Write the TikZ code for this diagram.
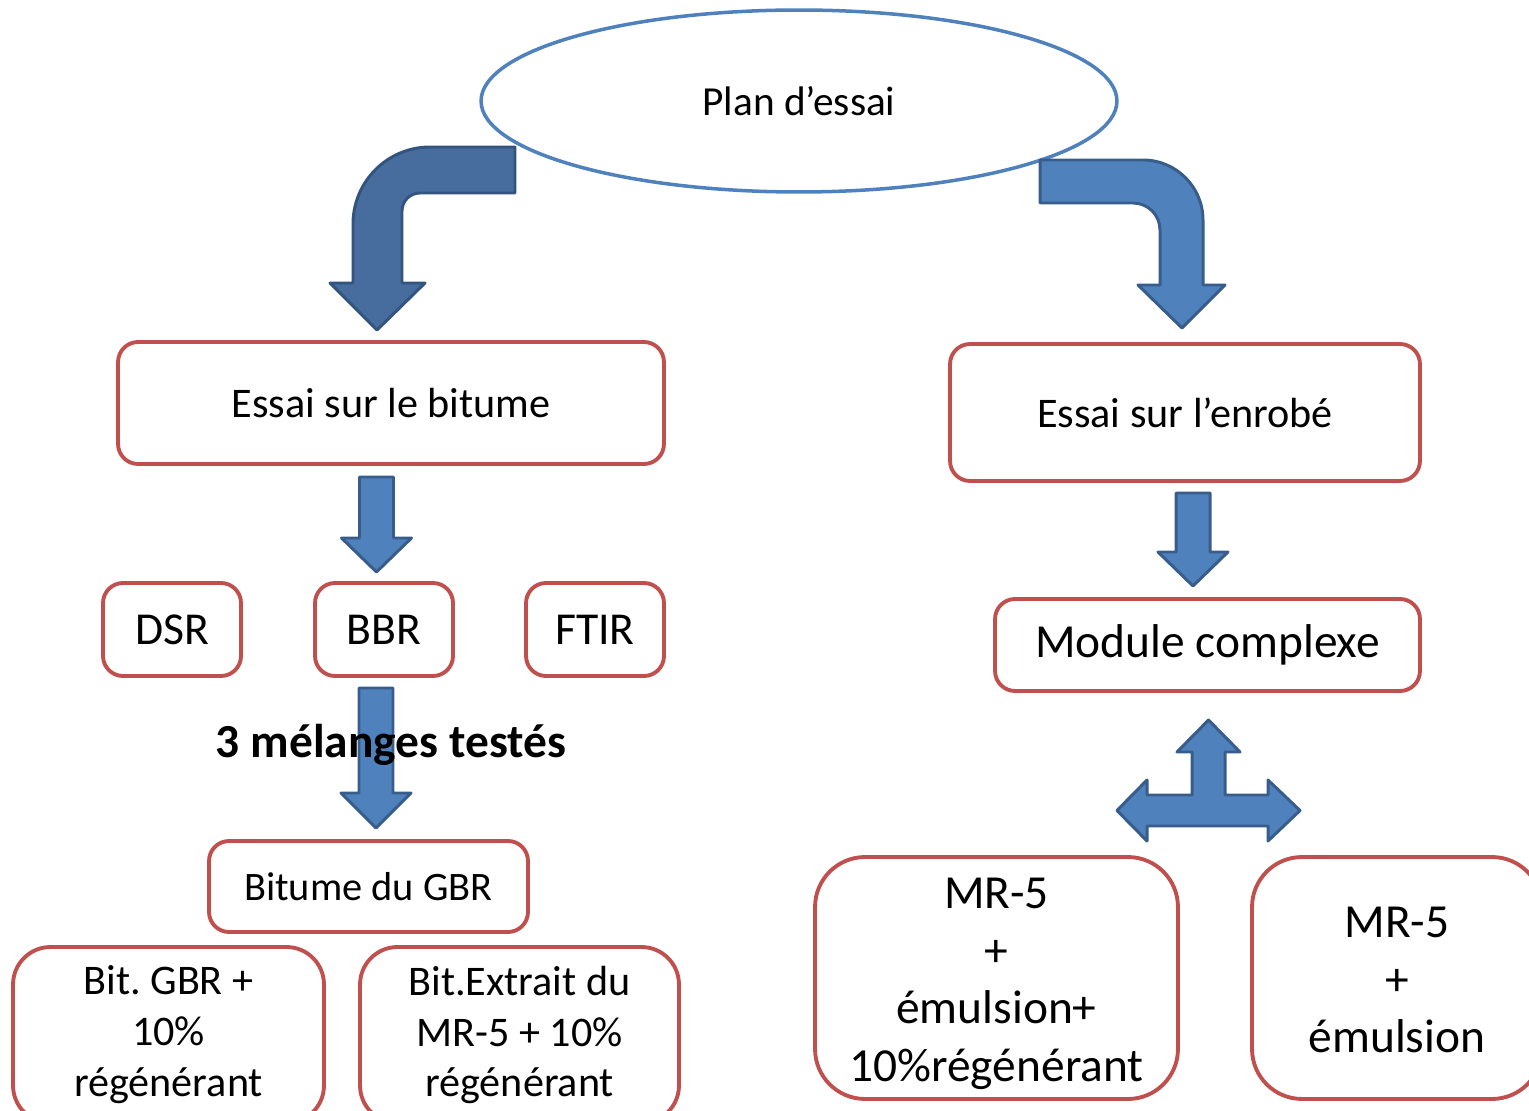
\documentclass[tikz,border=0pt]{standalone}
\usepackage{fontspec}
\setmainfont{Carlito}
\frenchspacing
\usetikzlibrary{shapes}
\definecolor{boxred}{HTML}{C0504D}
\definecolor{accblue}{HTML}{4F81BD}
\definecolor{accdark}{HTML}{385D8A}
\definecolor{bentblue}{HTML}{476D9E}
\definecolor{bentdark}{HTML}{33547F}
\tikzstyle{boxes} = [rectangle, rounded corners=0.4cm, draw=boxred, line width=2.2pt, fill=white, text centered, inner sep=0pt]
\tikzstyle{tallboxes} = [boxes, rounded corners=0.75cm, align=center]
\tikzstyle{bigboxes} = [boxes, rounded corners=1cm, align=center]
\tikzstyle{blockarrow} = [fill=accblue, draw=accdark, line width=1.7pt, line join=round]
\tikzstyle{bentarrow} = [fill=bentblue, draw=bentdark, line width=1.7pt, line join=round]
% straight block arrow: x, top, head start, tip
\newcommand{\blockdown}[4]{\draw[blockarrow] (#1-17,#2) -- (#1+17,#2) -- (#1+17,#3) -- (#1+35,#3) -- (#1,#4) -- (#1-35,#3) -- (#1-17,#3) -- cycle;}

\begin{document}
\begin{tikzpicture}[x=0.02cm, y=-0.02cm]
            \useasboundingbox (0,0) rectangle (1529,1111);
            \clip (0,0) rectangle (1529,1111);

            % Top
            \node(plan) [ellipse, draw=accblue, line width=2pt, minimum width=12.72cm, minimum height=3.64cm, font=\fontsize{23.5}{28}\selectfont] at (799,101) {Plan d’essai};

            % Draw bent arrows
            \draw[bentarrow] (515,147) -- (430,147) .. controls (387.5,147) and (353,181.5) .. (353,224) -- (353,283) -- (330,283) -- (377,330) -- (425,283) -- (402,283) -- (402,211) .. controls (402,201) and (410,193) .. (420,193) -- (515,193) -- cycle;
            \draw[blockarrow] (1040,160) -- (1143,160) .. controls (1176,160) and (1203,187) .. (1203,220) -- (1203,285) -- (1225,285) -- (1182,328) -- (1138,285) -- (1160,285) -- (1160,230) .. controls (1160,215) and (1148,203) .. (1133,203) -- (1040,203) -- cycle;

            % Left branch
            \node(bitume) [boxes, minimum width=10.92cm, minimum height=2.44cm, font=\fontsize{24}{29}\selectfont] at (391,403) {Essai sur le bitume};
            \node(dsr) [boxes, minimum width=2.76cm, minimum height=1.86cm, font=\fontsize{26}{31}\selectfont] at (172,629.5) {DSR};
            \node(bbr) [boxes, minimum width=2.76cm, minimum height=1.86cm, font=\fontsize{26}{31}\selectfont] at (384,629.5) {BBR};
            \node(ftir) [boxes, minimum width=2.76cm, minimum height=1.86cm, font=\fontsize{26}{31}\selectfont] at (595,629.5) {FTIR};
            \node(gbr) [boxes, minimum width=6.38cm, minimum height=1.82cm, font=\fontsize{23}{27}\selectfont] at (368.5,886.5) {Bitume du GBR};
            \node(bitgbr) [tallboxes, minimum width=6.22cm, minimum height=3.52cm, font=\fontsize{24}{29}\selectfont] at (168.5,1035) {Bit. GBR +\\10\%\\régénérant};
            \node(bitext) [tallboxes, minimum width=6.38cm, minimum height=3.52cm, font=\fontsize{24}{29}\selectfont] at (519.5,1035) {Bit.Extrait du\\MR-5 + 10\%\\régénérant};

            % Right branch
            \node(enrobe) [boxes, minimum width=9.4cm, minimum height=2.74cm, font=\fontsize{24}{29}\selectfont] at (1185,412.5) {Essai sur l’enrobé};
            \node(module) [boxes, minimum width=8.5cm, minimum height=1.84cm, font=\fontsize{27}{31}\selectfont] at (1207.5,645) {Module complexe};
            \node(mrfive) [bigboxes, minimum width=7.26cm, minimum height=4.84cm] at (996.5,978) {};
            \node(mrfiveb) [bigboxes, minimum width=5.8cm, minimum height=4.84cm] at (1397,978) {};
            \node(mrfivetext) [align=center, font=\fontsize{27}{32.7}\selectfont] at ([yshift=-0.12cm]mrfive.center) {MR-5\\+\\émulsion+\\10\%régénérant};
            \node(mrfivebtext) [align=center, font=\fontsize{27}{32.7}\selectfont] at ([yshift=-0.04cm]mrfiveb.center) {MR-5\\+\\émulsion};

            % Draw straight arrows
            \blockdown{376.5}{477}{538}{572}
            \blockdown{376}{688}{793}{828}
            \blockdown{1193}{493}{552}{586}
            \draw[blockarrow] (1208.5,720) -- (1240,752) -- (1225,752) -- (1225,795) -- (1268,795) -- (1268,780) -- (1300,810.5) -- (1268,841) -- (1268,826) -- (1147,826) -- (1147,841) -- (1117,810.5) -- (1147,780) -- (1147,795) -- (1192,795) -- (1192,752) -- (1177,752) -- cycle;

            \node(melanges) [font=\fontsize{27}{32}\selectfont\bfseries] at (391,745) {3 mélanges testés};
\end{tikzpicture}
\end{document}
